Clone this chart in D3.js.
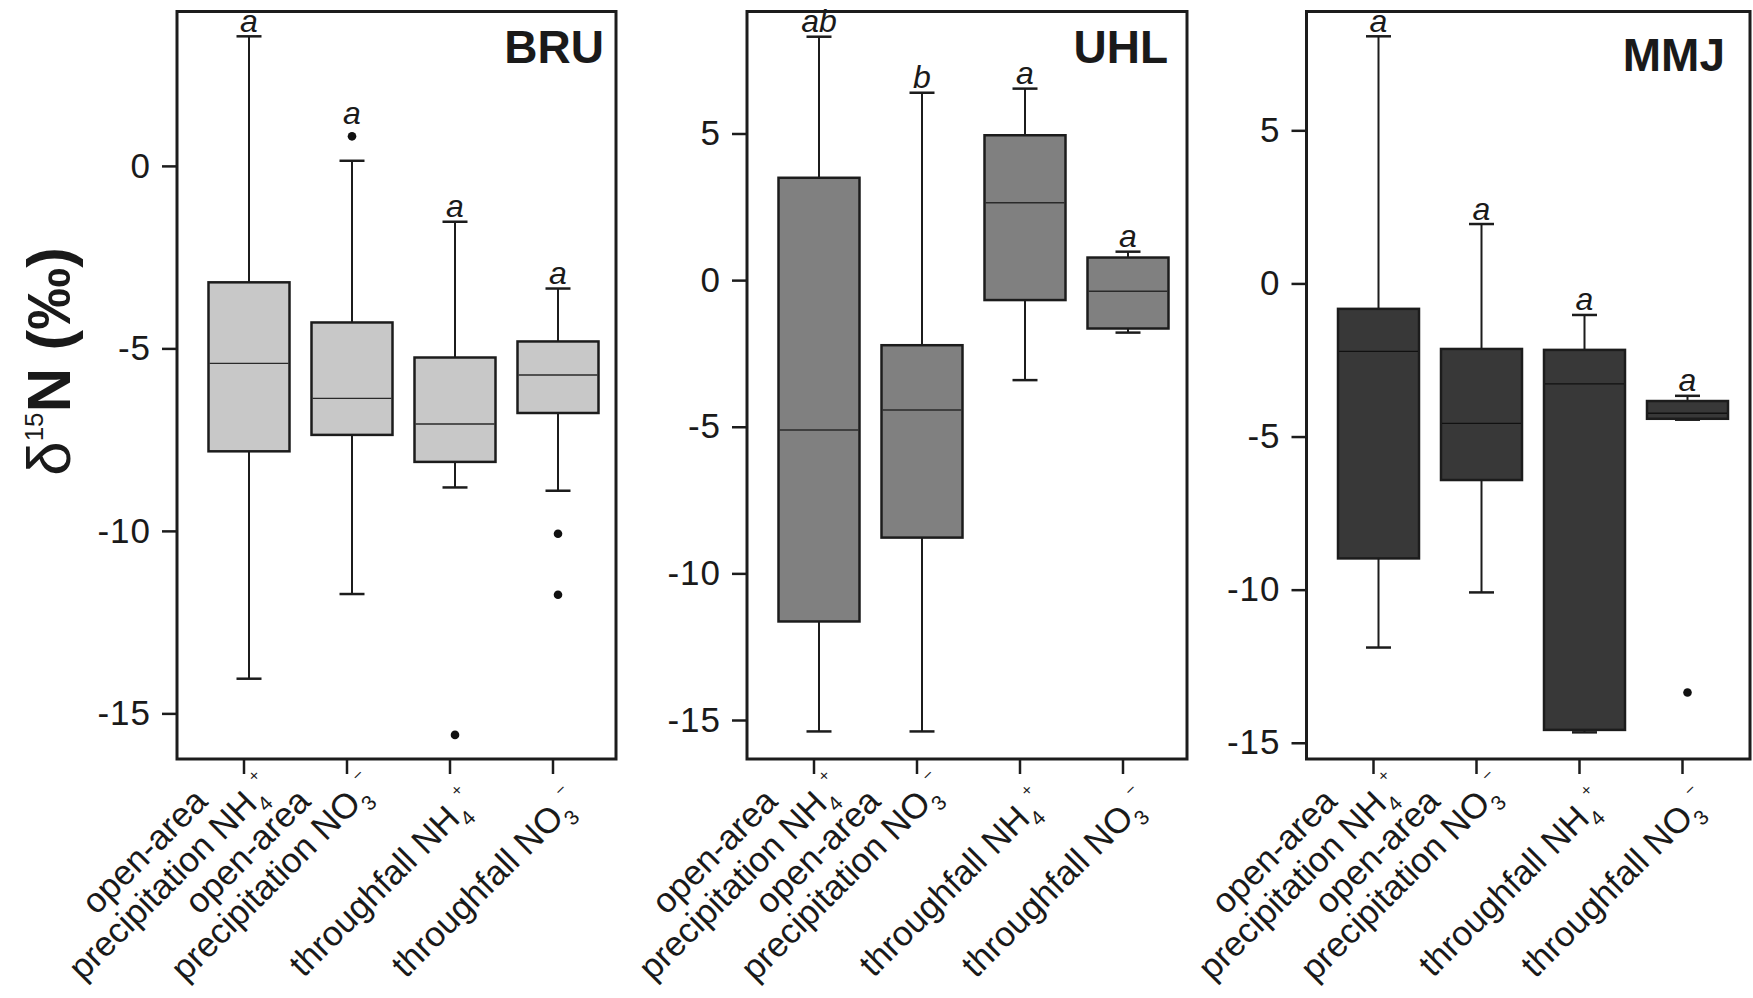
<!DOCTYPE html>
<html>
<head>
<meta charset="utf-8">
<script src="https://cdn.jsdelivr.net/npm/d3@7"></script>
<style>
body { margin: 0; background: #fff; }
svg { display: block; }
text { font-family: "Liberation Sans", Arial, sans-serif; fill: #1a1a1a; }
</style>
</head>
<body>
<div id="chart-area"></div>
<script>
// *********************
// Data
// *********************

const sites = ["BRU", "UHL", "MMJ"];
const categories = ["op-NH4", "op-NO3", "tf-NH4", "tf-NO3"];
const categoryLines = [
	["open-area", "precipitation NH"],
	["open-area", "precipitation NO"],
	["throughfall NH"],
	["throughfall NO"]
];
const ionSub = ["4", "3", "4", "3"];
const ionSup = ["+", "\u2212", "+", "\u2212"];

// [lower whisker, Q1, median, Q3, upper whisker]
const bruStats = [
	[-14.05, -7.82, -5.41, -3.19, 3.55],
	[-11.73, -7.37, -6.37, -4.29, 0.14],
	[-8.81, -8.11, -7.07, -5.25, -1.53],
	[-8.90, -6.77, -5.73, -4.81, -3.36]
];
const bruOutliers = [[], [0.81], [-15.59], [-10.08, -11.75]];
const bruLetters = ["a", "a", "a", "a"];

const uhlStats = [
	[-15.39, -11.64, -5.11, 3.49, 8.30],
	[-15.39, -8.78, -4.43, -2.22, 6.39],
	[-3.41, -0.68, 2.64, 4.94, 6.53],
	[-1.79, -1.65, -0.38, 0.77, 0.97]
];
const uhlOutliers = [[], [], [], []];
const uhlLetters = ["ab", "b", "a", "a"];

const mmjStats = [
	[-11.89, -8.98, -2.22, -0.83, 8.07],
	[-10.09, -6.42, -4.57, -2.14, 1.94],
	[-14.66, -14.58, -3.28, -2.17, -1.03],
	[-4.45, -4.42, -4.24, -3.84, -3.67]
];
const mmjOutliers = [[], [], [], [-13.36]];
const mmjLetters = ["a", "a", "a", "a"];

// axis ranges and tick values
const yDomains = [[-16.25, 4.23], [-16.33, 9.16], [-15.53, 8.88]];
const yTicks = [[-15, -10, -5, 0], [-15, -10, -5, 0, 5], [-15, -10, -5, 0, 5]];

const siteStats = [bruStats, uhlStats, mmjStats];
const siteOutliers = [bruOutliers, uhlOutliers, mmjOutliers];
const siteLetters = [bruLetters, uhlLetters, mmjLetters];

// *********************
// Layout and styles
// *********************

const width = 1753;
const height = 998;
const plotTop = 11.5;
const plotBottom = 759;
const panelLeft = [177, 747, 1306.5];
const panelRight = [616, 1187, 1750];
const boxFill = ["#c8c8c8", "#808080", "#383838"];
const titleInset = [12, 19, 25];
const titleBaseline = [63, 63, 71];
const ink = "#1c1c1c";
const boxWidth = 81;
const capWidth = 25;
const labelFont = 35;
const labelLineGap = 37;

const svg = d3.select("#chart-area")
	.append("svg")
	.attr("width", width)
	.attr("height", height);

svg.append("rect")
	.attr("width", "100%")
	.attr("height", "100%")
	.attr("fill", "white");

// *********************
// Panels
// *********************

sites.forEach((site, p) => {
	const pw = panelRight[p] - panelLeft[p];
	const g = svg.append("g")
		.attr("transform", "translate(" + panelLeft[p] + ",0)");

	const y = d3.scaleLinear()
		.domain(yDomains[p])
		.range([plotBottom, plotTop]);

	const x = d3.scaleBand()
		.domain(categories)
		.range([20.5, 432.5]);

	const boxes = categories.map((c, i) => ({
		cat: c,
		lo: siteStats[p][i][0],
		q1: siteStats[p][i][1],
		med: siteStats[p][i][2],
		q3: siteStats[p][i][3],
		hi: siteStats[p][i][4],
		out: siteOutliers[p][i],
		letter: siteLetters[p][i]
	}));

	const box = g.selectAll(".box")
		.data(boxes)
		.enter()
		.append("g")
		.attr("class", "box")
		.attr("transform", d => "translate(" + (x(d.cat) + x.bandwidth() / 2) + ",0)");

	// whisker
	box.append("line")
		.attr("y1", d => y(d.lo))
		.attr("y2", d => y(d.hi))
		.attr("stroke", ink)
		.attr("stroke-width", 2);

	// caps
	box.selectAll(".cap")
		.data(d => [d.lo, d.hi])
		.enter()
		.append("line")
		.attr("x1", -capWidth / 2)
		.attr("x2", capWidth / 2)
		.attr("y1", v => y(v))
		.attr("y2", v => y(v))
		.attr("stroke", ink)
		.attr("stroke-width", 2.5);

	// box
	box.append("rect")
		.attr("x", -boxWidth / 2)
		.attr("width", boxWidth)
		.attr("y", d => y(d.q3))
		.attr("height", d => y(d.q1) - y(d.q3))
		.attr("fill", boxFill[p])
		.attr("stroke", ink)
		.attr("stroke-width", 2.5);

	// median
	box.append("line")
		.attr("x1", -boxWidth / 2 + 1)
		.attr("x2", boxWidth / 2 - 1)
		.attr("y1", d => y(d.med))
		.attr("y2", d => y(d.med))
		.attr("stroke", p === 2 ? "#111" : "#2a2a2a")
		.attr("stroke-width", 1.4);

	// outliers
	box.selectAll(".out")
		.data(d => d.out)
		.enter()
		.append("circle")
		.attr("cy", v => y(v))
		.attr("r", 4.3)
		.attr("fill", "#111");

	// significance letters
	box.append("text")
		.attr("y", d => {
			const tops = [y(d.hi)].concat(d.out.filter(v => v > d.hi).map(v => y(v) - 8));
			return d3.min(tops) - 4.5;
		})
		.attr("text-anchor", "middle")
		.attr("font-size", "32px")
		.attr("font-style", "italic")
		.text(d => d.letter);

	// frame
	g.append("rect")
		.attr("x", 0)
		.attr("y", plotTop)
		.attr("width", pw)
		.attr("height", plotBottom - plotTop)
		.attr("fill", "none")
		.attr("stroke", ink)
		.attr("stroke-width", 3);

	// Y axis
	const yAxis = d3.axisLeft(y)
		.tickValues(yTicks[p])
		.tickSize(15)
		.tickPadding(11)
		.tickFormat(d => String(d));

	const yAxisGroup = g.append("g").call(yAxis);
	yAxisGroup.select(".domain").remove();
	yAxisGroup.selectAll("line").attr("stroke", ink).attr("stroke-width", 2.5);
	yAxisGroup.selectAll("text")
		.attr("font-size", "35px")
		.attr("letter-spacing", "1px")
		.attr("font-family", "Liberation Sans, Arial, sans-serif")
		.attr("fill", "#1a1a1a");

	// X axis ticks (drawn slightly left of the box centres, as in the original)
	const xAxis = d3.axisBottom(x).tickSize(15).tickFormat("");
	const xAxisGroup = g.append("g")
		.attr("transform", "translate(-5," + plotBottom + ")")
		.call(xAxis);
	xAxisGroup.select(".domain").remove();
	xAxisGroup.selectAll("line").attr("stroke", ink).attr("stroke-width", 2.5);

	// X labels, rotated, lines centred on each other
	categories.forEach((c, i) => {
		const tx = x(c) + x.bandwidth() / 2 - 5;
		const lab = g.append("g")
			.attr("transform", "translate(" + tx + "," + (plotBottom + 15) + ") rotate(-45)");
		const lines = categoryLines[i];
		const n = lines.length;
		const baseY = 33 + (n === 1 ? 8 : 0);
		lines.forEach((line, j) => {
			const t = lab.append("text")
				.attr("x", -125)
				.attr("y", baseY - (n - 1 - j) * labelLineGap)
				.attr("text-anchor", "middle")
				.attr("font-size", labelFont + "px");
			t.append("tspan").text(line);
			if (j === n - 1) {
				t.append("tspan")
					.attr("font-size", "21px")
					.attr("dy", 10)
					.text(ionSub[i]);
				t.append("tspan")
					.attr("font-size", "17px")
					.attr("dy", -29)
					.attr("dx", 1)
					.text(ionSup[i]);
			}
		});
	});

	// Site title
	g.append("text")
		.attr("x", pw - titleInset[p])
		.attr("y", titleBaseline[p])
		.attr("text-anchor", "end")
		.attr("font-size", "46px")
		.attr("font-weight", "bold")
		.text(site);
});

// *********************
// Y axis title
// *********************

const yTitle = svg.append("text")
	.attr("transform", "translate(70,361.5) rotate(-90)")
	.attr("text-anchor", "middle")
	.attr("font-size", "62px");

yTitle.append("tspan").text("\u03B4");
yTitle.append("tspan").attr("font-size", "26px").attr("dy", -27).text("15");
yTitle.append("tspan").attr("font-weight", "bold").attr("dy", 27).text("N (\u2030)");
</script>
</body>
</html>
